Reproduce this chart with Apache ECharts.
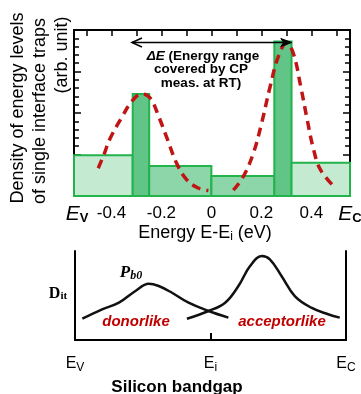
<!DOCTYPE html>
<html>
<head>
<meta charset="utf-8">
<script src="https://cdn.jsdelivr.net/npm/echarts@6/dist/echarts.min.js"></script>
<style>
html,body{margin:0;padding:0;background:#fff;}
#c{width:361px;height:394px;}
</style>
</head>
<body>
<div id="c"></div>
<script>
// ---- Top histogram data (energy E-Ei in eV, density in arb. units) ----
var binStart = [-0.55, -0.315, -0.249, 0.0, 0.252, 0.321];
var binEnd   = [-0.315, -0.249, 0.0, 0.252, 0.321, 0.555];
var binHeight = [0.98, 2.46, 0.72, 0.48, 3.72, 0.80];
var binShade = ['light', 'dark', 'mid', 'mid', 'dark', 'light'];

// dashed fitted curves
var donorFitX = [-0.453, -0.43, -0.406, -0.36, -0.316, -0.279, -0.245, -0.21, -0.175, -0.14, -0.10, -0.055, -0.012];
var donorFitY = [0.67, 1.0, 1.38, 1.88, 2.3, 2.46, 2.36, 1.9, 1.35, 0.8, 0.4, 0.2, 0.13];
var acceptorFitX = [0.088, 0.128, 0.168, 0.201, 0.235, 0.268, 0.301, 0.328, 0.358, 0.384, 0.41, 0.437, 0.495];
var acceptorFitY = [0.14, 0.47, 1.03, 1.75, 2.63, 3.36, 3.68, 3.44, 2.63, 1.83, 1.1, 0.63, 0.2];

// tick values
var xMajorTicks = [-0.4, -0.2, 0, 0.2, 0.4];
var xMinorTicks = [-0.5, -0.3, -0.1, 0.1, 0.3, 0.5];
var xTopTicks = [-0.5, -0.4, -0.3, -0.2, -0.1, 0, 0.1, 0.2, 0.3, 0.4, 0.5];

// ---- Bottom schematic data (position across bandgap 0..1, Dit arb.) ----
var donorX = [0.027, 0.10, 0.162, 0.223, 0.272, 0.309, 0.358, 0.419, 0.493, 0.566];
var donorY = [0.239, 0.345, 0.419, 0.551, 0.633, 0.607, 0.531, 0.419, 0.326, 0.251];
var acceptorX = [0.413, 0.493, 0.554, 0.603, 0.646, 0.689, 0.719, 0.762, 0.811, 0.872, 0.934, 0.977];
var acceptorY = [0.239, 0.326, 0.419, 0.607, 0.831, 0.944, 0.907, 0.719, 0.494, 0.363, 0.289, 0.251];
var bandTicks = [0, 0.5, 1];
var bandLabels = ['E|V', 'E|i', 'E|C'];

function zip(a, b) { return a.map(function (v, i) { return [v, b[i]]; }); }

var shadeColor = { light: '#c4ead2', mid: '#8dd6a9', dark: '#62c588' };
var barData = binStart.map(function (s, i) { return [s, binEnd[i], binHeight[i], i]; });

var chart = echarts.init(document.getElementById('c'), null, { renderer: 'canvas' });
var black = '#000';
var font = 'Arial, "Liberation Sans", sans-serif';

var option = {
  backgroundColor: '#fff',
  animation: false,
  grid: [
    { left: 74, top: 30, width: 276, height: 166 },
    { left: 75, top: 251, width: 271, height: 89 }
  ],
  xAxis: [
    { gridIndex: 0, type: 'value', min: -0.55, max: 0.555, position: 'bottom',
      axisLine: { show: true, onZero: false, lineStyle: { color: black, width: 2 } },
      axisTick: { show: true, inside: true, length: 8, customValues: xMajorTicks, lineStyle: { color: black, width: 2 } },
      axisLabel: { show: true, customValues: xMajorTicks, margin: 9, fontSize: 17, color: black, fontFamily: font,
        formatter: function (v) { return v === 0 ? '0' : v.toFixed(1); } },
      splitLine: { show: false } },
    { gridIndex: 0, type: 'value', min: -0.55, max: 0.555, position: 'bottom',
      axisLine: { show: false },
      axisTick: { show: true, inside: true, length: 4, customValues: xMinorTicks, lineStyle: { color: black, width: 2 } },
      axisLabel: { show: false }, splitLine: { show: false } },
    { gridIndex: 0, type: 'value', min: -0.55, max: 0.555, position: 'top',
      axisLine: { show: true, onZero: false, lineStyle: { color: black, width: 2 } },
      axisTick: { show: true, inside: true, length: 6, customValues: xTopTicks, lineStyle: { color: black, width: 1.5 } },
      axisLabel: { show: false }, splitLine: { show: false } },
    { gridIndex: 1, type: 'value', min: 0, max: 1, position: 'bottom',
      axisLine: { show: true, onZero: false, lineStyle: { color: black, width: 2 } },
      axisTick: { show: true, inside: true, length: 7, customValues: [0.5], lineStyle: { color: black, width: 2 } },
      axisLabel: { show: true, customValues: bandTicks, margin: 14, color: black, fontFamily: font,
        formatter: function (v) { var i = bandTicks.indexOf(v); var p = bandLabels[i].split('|'); return '{e|' + p[0] + '}{s|' + p[1] + '}'; },
        rich: { e: { fontSize: 16, fontFamily: font, color: black }, s: { fontSize: 12, fontFamily: font, color: black, padding: [8, 0, 0, 0] } } },
      splitLine: { show: false } }
  ],
  yAxis: [
    { gridIndex: 0, type: 'value', min: 0, max: 4, interval: 1, position: 'left',
      axisLine: { show: true, onZero: false, lineStyle: { color: black, width: 2 } },
      axisTick: { show: true, inside: true, length: 7, lineStyle: { color: black, width: 1.5 } },
      minorTick: { show: true, splitNumber: 5, length: 5, lineStyle: { color: black, width: 1.5 } },
      axisLabel: { show: false }, splitLine: { show: false } },
    { gridIndex: 0, type: 'value', min: 0, max: 4, interval: 1, position: 'right',
      axisLine: { show: true, onZero: false, lineStyle: { color: black, width: 2 } },
      axisTick: { show: true, inside: true, length: 7, lineStyle: { color: black, width: 1.5 } },
      minorTick: { show: true, splitNumber: 5, length: 5, lineStyle: { color: black, width: 1.5 } },
      axisLabel: { show: false }, splitLine: { show: false } },
    { gridIndex: 1, type: 'value', min: 0, max: 1, position: 'left',
      axisLine: { show: true, onZero: false, lineStyle: { color: black, width: 2 } },
      axisTick: { show: false }, axisLabel: { show: false }, splitLine: { show: false } },
    { gridIndex: 1, type: 'value', min: 0, max: 1, position: 'right',
      axisLine: { show: true, onZero: false, lineStyle: { color: black, width: 2 } },
      axisTick: { show: false }, axisLabel: { show: false }, splitLine: { show: false } }
  ],
  series: [
    { type: 'custom', xAxisIndex: 0, yAxisIndex: 0, data: barData, z: 2,
      renderItem: function (params, api) {
        var p0 = api.coord([api.value(0), api.value(2)]);
        var p1 = api.coord([api.value(1), 0]);
        var idx = api.value(3);
        return { type: 'rect',
          shape: { x: p0[0], y: p0[1], width: p1[0] - p0[0], height: p1[1] - p0[1] },
          style: { fill: shadeColor[binShade[idx]], stroke: '#22b34b', lineWidth: 2 } };
      } },
    { type: 'line', xAxisIndex: 0, yAxisIndex: 0, data: zip(donorFitX, donorFitY), smooth: 0.4, symbol: 'none', z: 5,
      lineStyle: { color: '#c01515', width: 3.5, type: [9, 6] } },
    { type: 'line', xAxisIndex: 0, yAxisIndex: 0, data: zip(acceptorFitX, acceptorFitY), smooth: 0.4, symbol: 'none', z: 5,
      lineStyle: { color: '#c01515', width: 3.5, type: [9, 6] } },
    { type: 'line', xAxisIndex: 3, yAxisIndex: 2, data: zip(donorX, donorY), smooth: 0.4, symbol: 'none',
      lineStyle: { color: '#111', width: 2.5 } },
    { type: 'line', xAxisIndex: 3, yAxisIndex: 2, data: zip(acceptorX, acceptorY), smooth: 0.4, symbol: 'none',
      lineStyle: { color: '#111', width: 2.5 } }
  ]
};
chart.setOption(option);

// annotations placed relative to the axes
var aL = chart.convertToPixel({ xAxisIndex: 0, yAxisIndex: 0 }, [-0.318, 3.72]);
var aR = chart.convertToPixel({ xAxisIndex: 0, yAxisIndex: 0 }, [0.322, 3.72]);
var ay = Math.round(aL[1]) + 0.5;
var txt = function (x, y, text, extra) {
  var s = Object.assign({ x: x, y: y, text: text, fill: black, font: '17px ' + font, align: 'center', verticalAlign: 'middle' }, extra || {});
  return { type: 'text', style: s, z: 50 };
};
chart.setOption({
  graphic: [
    // Y-axis title (rotated)
    Object.assign(txt(0, 0, 'Density of energy levels', { font: '18px ' + font }), { x: 18, y: 108, rotation: Math.PI / 2 }),
    Object.assign(txt(0, 0, 'of single interface traps', { font: '18px ' + font }), { x: 40, y: 111, rotation: Math.PI / 2 }),
    Object.assign(txt(0, 0, '(arb. unit)', { font: '18px ' + font }), { x: 62, y: 55, rotation: Math.PI / 2 }),
    // x-axis title
    { type: 'text', z: 50, style: { x: 205, y: 233, align: 'center', verticalAlign: 'middle',
      text: '{a|Energy E-E}{b|i}{a| (eV)}',
      rich: { a: { fontSize: 18, fontFamily: font, fill: black }, b: { fontSize: 12, fontFamily: font, fill: black, padding: [8, 0, 0, 0] } } } },
    // band edges top plot
    { type: 'text', z: 50, style: { x: 77, y: 214, align: 'center', verticalAlign: 'middle',
      text: '{a|E}{b|V}', rich: { a: { fontSize: 21, fontStyle: 'italic', fontFamily: font, fill: black }, b: { fontSize: 13, fontWeight: 'bold', fontFamily: font, fill: black, padding: [9, 0, 0, 0] } } } },
    { type: 'text', z: 50, style: { x: 350, y: 214, align: 'center', verticalAlign: 'middle',
      text: '{a|E}{b|C}', rich: { a: { fontSize: 21, fontStyle: 'italic', fontFamily: font, fill: black }, b: { fontSize: 13, fontWeight: 'bold', fontFamily: font, fill: black, padding: [9, 0, 0, 0] } } } },
    // Delta E arrow
    { type: 'line', z: 40, shape: { x1: aL[0], y1: ay, x2: aR[0] - 2, y2: ay }, style: { stroke: black, lineWidth: 1.5 } },
    { type: 'polyline', z: 40, shape: { points: [[aL[0] + 10, ay - 4.5], [aL[0], ay], [aL[0] + 10, ay + 4.5]] }, style: { stroke: black, lineWidth: 1.5, fill: null } },
    { type: 'polygon', z: 40, shape: { points: [[aR[0] - 11, ay - 4], [aR[0], ay], [aR[0] - 11, ay + 4], [aR[0] - 8, ay]] }, style: { stroke: black, lineWidth: 1, fill: black } },
    { type: 'text', z: 50, style: { x: 203, y: 56, align: 'center', verticalAlign: 'middle',
      text: '{i|ΔE}{n| (Energy range}', rich: { i: { fontSize: 13.5, fontWeight: 'bold', fontStyle: 'italic', fontFamily: font, fill: black }, n: { fontSize: 13.5, fontWeight: 'bold', fontFamily: font, fill: black } } } },
    txt(201, 69.5, 'covered by CP', { font: 'bold 13.5px ' + font }),
    txt(201, 83, 'meas. at RT)', { font: 'bold 13.5px ' + font }),
    // bottom schematic labels
    { type: 'text', z: 50, style: { x: 58, y: 294, align: 'center', verticalAlign: 'middle',
      text: '{a|D}{b|it}', rich: { a: { fontSize: 16, fontWeight: 'bold', fontFamily: '"Liberation Serif", "DejaVu Serif", serif', fill: black }, b: { fontSize: 11, fontWeight: 'bold', fontFamily: '"Liberation Serif", serif', fill: black, padding: [5, 0, 0, 0] } } } },
    { type: 'text', z: 50, style: { x: 131, y: 273, align: 'center', verticalAlign: 'middle',
      text: '{a|P}{b|b0}', rich: { a: { fontSize: 17, fontWeight: 'bold', fontStyle: 'italic', fontFamily: '"Liberation Serif", serif', fill: black }, b: { fontSize: 12, fontWeight: 'bold', fontStyle: 'italic', fontFamily: '"Liberation Serif", serif', fill: black, padding: [6, 0, 0, 0] } } } },
    txt(136, 322, 'donorlike', { font: 'italic bold 15px ' + font, fill: '#c00000' }),
    txt(282, 322, 'acceptorlike', { font: 'italic bold 15px ' + font, fill: '#c00000' }),
    txt(177, 387, 'Silicon bandgap', { font: 'bold 17px ' + font })
  ]
});
</script>
</body>
</html>
